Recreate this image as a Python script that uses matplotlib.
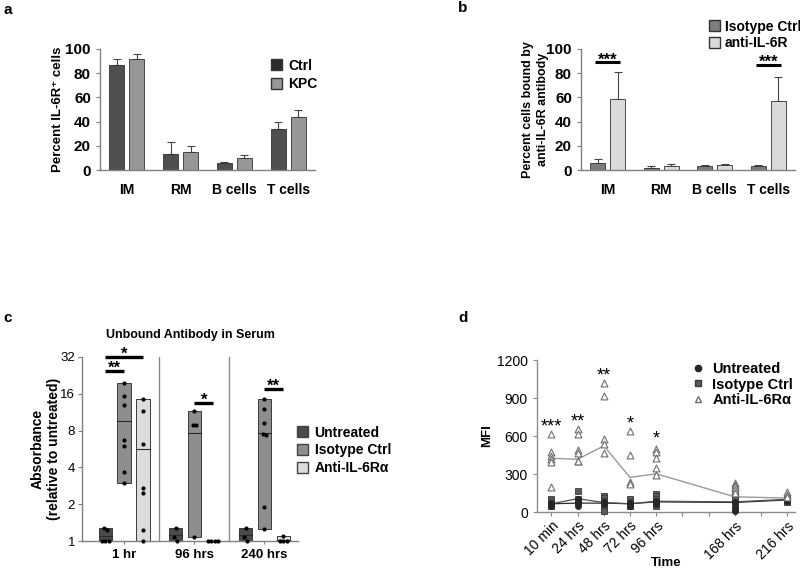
import numpy as np
import matplotlib
matplotlib.use("Agg")
import matplotlib.pyplot as plt
from matplotlib.patches import Patch
from matplotlib.lines import Line2D

plt.rcParams['font.family'] = ['Liberation Sans', 'DejaVu Sans']

# ---------------- data ----------------
# panel a
cats_ab = ['IM', 'RM', 'B cells', 'T cells']
a_ctrl = [87, 13, 6, 34]
a_ctrl_err = [5, 10, 1, 6]
a_kpc = [92, 15, 10, 44]
a_kpc_err = [4, 5, 2, 6]

# panel b
b_iso = [6, 2, 3, 3]
b_iso_err = [3, 1, 0.8, 1]
b_anti = [59, 3, 4, 57]
b_anti_err = [22, 2, 0.6, 20]
b_sig_idx = [0, 3]
b_sig_y = [89, 87]
b_sig_lbl = ['***', '***']

# panel c (fold absorbance, log2 scale)
c_groups = ['1 hr', '96 hrs', '240 hrs']
c_untreated = [[1.28, 1.23, 1.0, 1.0, 1.0],
               [1.28, 1.08, 1.0],
               [1.28, 1.08, 1.0]]
c_isotype = [[19.7, 15.4, 13.0, 6.7, 6.0, 3.7, 3.0],
             [11.5, 8.9, 8.9, 1.07],
             [14.4, 12.1, 9.3, 7.55, 7.3, 1.89, 1.25]]
c_anti = [[14.4, 11.6, 6.2, 2.73, 2.49, 1.23, 1.0],
          [1.0, 1.0, 1.0, 1.0],
          [1.1, 1.0, 1.0, 1.0]]
# significance: (group, series_from, series_to, y, label)
c_sig = [(0, 0, 2, 32, '*'), (0, 0, 1, 24.6, '**'),
         (1, 1, 2, 13.5, '*'), (2, 1, 2, 17.5, '**')]

# panel d
d_labels = ['10 min', '24 hrs', '48 hrs', '72 hrs', '96 hrs', '168 hrs', '216 hrs']
d_days = [0, 1, 2, 3, 4, 7, 9]
d_anti_pts = [[612, 470, 440, 420, 395, 195],
              [657, 612, 490, 464, 403, 400],
              [1020, 914, 577, 538, 464],
              [636, 453, 235, 222],
              [495, 477, 429, 350, 294],
              [232, 215, 195, 175, 150],
              [155, 135, 115]]
d_anti_mean = [424, 416, 522, 273, 302, 120, 110]
d_iso_pts = [[105, 85, 65, 45],
             [165, 105, 85],
             [130, 110, 85, 60, 20, 10],
             [100, 80, 60, 45],
             [145, 125, 100, 70, 50],
             [185, 155, 125, 95],
             [110, 100, 90, 80]]
d_iso_mean = [65, 105, 75, 65, 85, 80, 100]
d_unt_pts = [[70, 60, 50],
             [100, 90, 70, 50],
             [80, 70, 60],
             [70, 60, 50],
             [90, 80, 60],
             [80, 60, 40, 20, 10],
             [100, 90]]
d_unt_mean = [65, 70, 70, 65, 80, 75, 95]
d_sig_lbl = ['***', '**', '**', '*', '*']
d_sig_y = [726, 766, 1129, 750, 632]

# ---------------- figure ----------------
fig = plt.figure(figsize=(8, 5.71), dpi=100)
W, H = 800, 571

def rect(x0, x1, ytop, ybot):
    return [x0 / W, 1 - ybot / H, (x1 - x0) / W, (ybot - ytop) / H]

SP = '#808080'
def style_axes(ax, spcol=SP):
    for s in ['top', 'right']:
        ax.spines[s].set_visible(False)
    for s in ['left', 'bottom']:
        ax.spines[s].set_color(spcol)
        ax.spines[s].set_linewidth(1.0)
    ax.tick_params(colors=spcol, labelcolor='black')

def stars(ax, xv, yv, lb, size, down_pt):
    ax.annotate(lb, (xv, yv), xytext=(0, -down_pt), textcoords='offset points',
                ha='center', va='baseline', fontsize=size, fontweight='bold',
                annotation_clip=False)

# ----- panel a -----
axa = fig.add_axes(rect(100, 315, 49, 170))
x = np.arange(len(cats_ab))
off, bw = 0.185, 0.28
c_ctrl, c_kpc = '#4f4f4f', '#979797'
axa.bar(x - off, a_ctrl, bw, color=c_ctrl, edgecolor='#333333', lw=0.6, zorder=2)
axa.bar(x + off, a_kpc, bw, color=c_kpc, edgecolor='#333333', lw=0.6, zorder=2)
axa.errorbar(x - off, a_ctrl, yerr=[np.zeros(4), a_ctrl_err], fmt='none',
             ecolor='#444444', elinewidth=0.8, capsize=3, capthick=0.8, zorder=1)
axa.errorbar(x + off, a_kpc, yerr=[np.zeros(4), a_kpc_err], fmt='none',
             ecolor='#444444', elinewidth=0.8, capsize=3, capthick=0.8, zorder=1)
axa.set_xlim(-0.5, 3.5)
axa.set_ylim(0, 100)
axa.set_yticks([0, 20, 40, 60, 80, 100])
axa.set_xticks(x)
axa.set_xticklabels(cats_ab, fontsize=10, fontweight='bold')
for t in axa.get_yticklabels():
    t.set_fontweight('bold'); t.set_fontsize(11)
axa.tick_params(axis='x', length=0, pad=9)
axa.tick_params(axis='y', length=3)
style_axes(axa)
axa.set_ylabel('Percent IL-6R\u207a cells', fontsize=9.5, fontweight='bold')
axa.yaxis.set_label_coords((64 - 100) / 215, 0.5)
axa.legend(handles=[Patch(facecolor='#2b2b2b', edgecolor='#333333', label='Ctrl'),
                    Patch(facecolor=c_kpc, edgecolor='#333333', label='KPC')],
           loc='upper left', bbox_to_anchor=((265 - 100) / 215, 1 + (49 - 53) / 121),
           frameon=False,
           prop={'weight': 'bold', 'size': 10}, handlelength=0.8, handleheight=0.8,
           handletextpad=0.5, labelspacing=0.35, borderaxespad=0)

# ----- panel b -----
axb = fig.add_axes(rect(581, 795, 49, 170))
c_iso_b, c_anti_b = '#7d7d7d', '#dadada'
axb.bar(x - off, b_iso, bw, color=c_iso_b, edgecolor='#333333', lw=0.6, zorder=2)
axb.bar(x + off, b_anti, bw, color=c_anti_b, edgecolor='#333333', lw=0.6, zorder=2)
axb.errorbar(x - off, b_iso, yerr=[np.zeros(4), b_iso_err], fmt='none',
             ecolor='#444444', elinewidth=0.8, capsize=3, capthick=0.8, zorder=1)
axb.errorbar(x + off, b_anti, yerr=[np.zeros(4), b_anti_err], fmt='none',
             ecolor='#444444', elinewidth=0.8, capsize=3, capthick=0.8, zorder=1)
for i, yv, lb in zip(b_sig_idx, b_sig_y, b_sig_lbl):
    axb.plot([i - off - 0.05, i + off + 0.05], [yv, yv], color='black', lw=2.2,
             solid_capstyle='butt', clip_on=False)
    stars(axb, i, yv, lb, 12, 1.5)
axb.set_xlim(-0.5, 3.5)
axb.set_ylim(0, 100)
axb.set_yticks([0, 20, 40, 60, 80, 100])
axb.set_xticks(x)
axb.set_xticklabels(cats_ab, fontsize=10, fontweight='bold')
for t in axb.get_yticklabels():
    t.set_fontweight('bold'); t.set_fontsize(11)
axb.tick_params(axis='x', length=0, pad=9)
axb.tick_params(axis='y', length=3)
style_axes(axb)
axb.set_ylabel('Percent cells bound by\nanti-IL-6R antibody', fontsize=9,
               fontweight='bold', linespacing=1.35)
axb.yaxis.set_label_coords((549 - 581) / 214, 0.5)
fig.legend(handles=[Patch(facecolor=c_iso_b, edgecolor='#333333', label='Isotype Ctrl'),
                    Patch(facecolor=c_anti_b, edgecolor='#333333', label='anti-IL-6R')],
           loc='upper left', bbox_to_anchor=(703 / W, 1 - 14 / H), frameon=False,
           prop={'weight': 'bold', 'size': 10}, handlelength=0.8, handleheight=0.8,
           handletextpad=0.35, labelspacing=0.2, borderaxespad=0)

# ----- panel c -----
axc = fig.add_axes(rect(82, 298, 357, 541))
axc.set_yscale('log', base=2)
c_cols = ['#4a4a4a', '#8e8e8e', '#dcdcdc']
c_names = ['Untreated', 'Isotype Ctrl', 'Anti-IL-6R\u03b1']
c_series = [c_untreated, c_isotype, c_anti]
c_off = [-0.265, 0.0, 0.27]
c_bw = 0.19

def swarm(vals, center, step=0.048):
    lv = np.log2(vals)
    order = np.argsort(-lv)
    xs = np.full(len(vals), center, dtype=float)
    groups = []
    for idx in order:
        if groups and abs(lv[groups[-1][-1]] - lv[idx]) < 0.12:
            groups[-1].append(idx)
        else:
            groups.append([idx])
    for g in groups:
        n = len(g)
        for k, idx in enumerate(g):
            xs[idx] = center + (k - (n - 1) / 2) * step
    return xs

for s, (ser, col, o) in enumerate(zip(c_series, c_cols, c_off)):
    for gi, vals in enumerate(ser):
        cx = gi + o
        lo, hi = min(vals), max(vals)
        if hi > lo:
            axc.bar(cx, hi - lo, c_bw, bottom=lo, color=col, edgecolor='#3a3a3a',
                    lw=0.7, zorder=2)
            m = np.mean(vals)
            axc.plot([cx - c_bw / 2, cx + c_bw / 2], [m, m], color='#2a2a2a', lw=0.8, zorder=3)
        xs = swarm(vals, cx)
        axc.scatter(xs, vals, s=9, color='black', zorder=4, clip_on=False, linewidths=0)

for g, sa, sb, yv, lb in c_sig:
    xa, xb = g + c_off[sa], g + c_off[sb]
    axc.plot([xa, xb], [yv, yv], color='black', lw=2.4, solid_capstyle='butt',
             clip_on=False, zorder=5)
    stars(axc, (xa + xb) / 2, yv, lb, 12, 1.5)

for xv in [0.5, 1.5]:
    axc.axvline(xv, color='#8a8a8a', lw=1.0, zorder=1)
axc.set_xlim(-0.6, 2.48)
axc.set_ylim(1, 32)
axc.set_yticks([1, 2, 4, 8, 16, 32])
axc.set_yticklabels(['1', '2', '4', '8', '16', '32'], fontsize=9.5)
axc.yaxis.set_minor_locator(matplotlib.ticker.NullLocator())
axc.set_xticks(range(3))
axc.set_xticklabels(c_groups, fontsize=9.5, fontweight='bold')
axc.tick_params(axis='x', length=2, pad=4)
axc.tick_params(axis='y', length=3, pad=2)
style_axes(axc)
axc.set_ylabel('Absorbance\n(relative to untreated)', fontsize=10, fontweight='bold',
               linespacing=1.2)
axc.yaxis.set_label_coords((61 - 82) / 216, 0.5)
axc.set_title('Unbound Antibody in Serum', fontsize=9, fontweight='bold', pad=14)
fig.legend(handles=[Patch(facecolor=c, edgecolor='#444444', label=n)
                    for c, n in zip(c_cols, c_names)],
           loc='upper left', bbox_to_anchor=(291 / W, 1 - 420 / H), frameon=False,
           prop={'weight': 'bold', 'size': 10}, handlelength=0.8, handleheight=0.8,
           handletextpad=0.5, labelspacing=0.28, borderaxespad=0)

# ----- panel d -----
axd = fig.add_axes(rect(537, 795, 360, 512))
days = np.array(d_days, dtype=float)
axd.plot(days, d_unt_mean, color='#2e2e2e', lw=0.9, zorder=2)
axd.plot(days, d_iso_mean, color='#505050', lw=0.9, zorder=2)
axd.plot(days, d_anti_mean, color='#9a9a9a', lw=1.0, zorder=2)
for dd, pts in zip(days, d_iso_pts):
    axd.scatter([dd] * len(pts), pts, marker='s', s=22, color='#5a5a5a',
                edgecolors='#3a3a3a', linewidths=0.6, zorder=3, clip_on=False)
for dd, pts in zip(days, d_unt_pts):
    axd.scatter([dd] * len(pts), pts, marker='o', s=20, color='#262626',
                edgecolors='#262626', linewidths=0.5, zorder=4, clip_on=False)
for dd, pts in zip(days, d_anti_pts):
    axd.scatter([dd] * len(pts), pts, marker='^', s=24, facecolors='white',
                edgecolors='#6e6e6e', linewidths=0.8, zorder=5, clip_on=False)
for dd, lb, yv in zip(days, d_sig_lbl, d_sig_y):
    axd.annotate(lb, (dd, yv), xytext=(0, -8.5), textcoords='offset points',
                 ha='center', va='baseline', fontsize=13, annotation_clip=False)
axd.set_xlim(-0.55, 9.3)
axd.set_ylim(0, 1200)
axd.set_yticks([0, 300, 600, 900, 1200])
axd.set_yticklabels(['0', '300', '600', '900', '1200'], fontsize=10)
axd.set_xticks(range(10))
lbl_map = dict(zip(d_days, d_labels))
axd.set_xticklabels([lbl_map.get(i, '') for i in range(10)], fontsize=10,
                    rotation=45, ha='right', rotation_mode='anchor')
axd.tick_params(axis='x', length=3, pad=2)
axd.tick_params(axis='y', length=3)
style_axes(axd, '#8c8c8c')
axd.set_ylabel('MFI', fontsize=9.5, fontweight='bold')
axd.yaxis.set_label_coords((493 - 537) / 258, 0.5)
axd.set_xlabel('Time', fontsize=9.5, fontweight='bold', va='center')
axd.xaxis.set_label_coords(0.5, (512 - 563) / 152)
axd.legend(handles=[Line2D([], [], ls='none', marker='o', ms=4.5, color='#262626', label='Untreated'),
                    Line2D([], [], ls='none', marker='s', ms=4.5, color='#5a5a5a',
                           mec='#3a3a3a', label='Isotype Ctrl'),
                    Line2D([], [], ls='none', marker='^', ms=4.5, mfc='white',
                           mec='#6e6e6e', label='Anti-IL-6R\u03b1')],
           loc='upper left', bbox_to_anchor=((686 - 537) / 258, 1 + (360 - 356) / 152),
           frameon=False,
           prop={'weight': 'bold', 'size': 10.5}, handlelength=0.8,
           handletextpad=0.6, labelspacing=0.12, borderaxespad=0)

# panel letters
for lb, px, py in [('a', 3, 10), ('b', 458, 8), ('c', 3, 318), ('d', 458, 318)]:
    fig.text(px / W, 1 - py / H, lb, fontsize=11, fontweight='bold', ha='left', va='center')

fig.savefig('out.png', dpi=100)
